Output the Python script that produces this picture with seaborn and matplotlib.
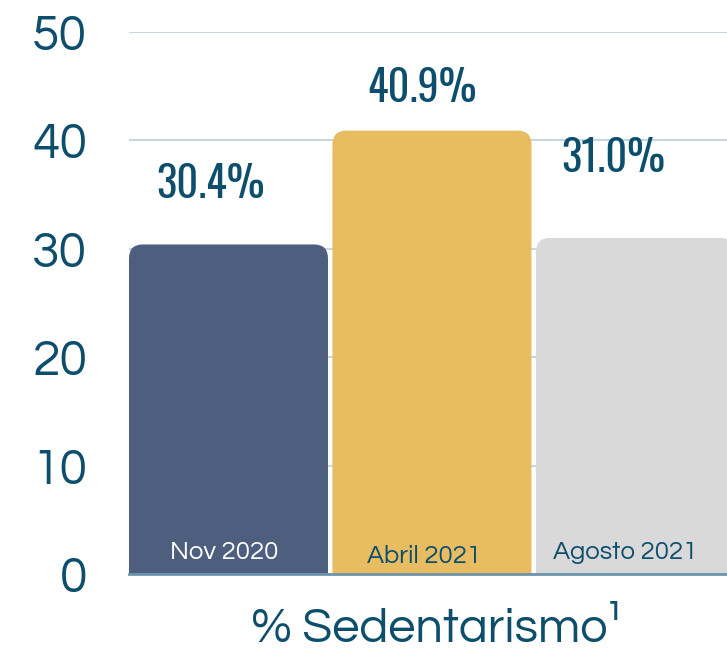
import pandas as pd
import seaborn as sns
import matplotlib.pyplot as plt
from matplotlib.patches import FancyBboxPatch

# datos
periodos = ["Nov 2020", "Abril 2021", "Agosto 2021"]
sedentarismo = [30.4, 40.9, 31.0]
etiquetas = ["30.4%", "40.9%", "31.0%"]
yticks = [0, 10, 20, 30, 40, 50]

colores = ["#4e5e7f", "#e8bd62", "#d9d9d9"]
color_texto = "#0e4e6d"
color_cat = ["white", color_texto, color_texto]

# posiciones de las etiquetas (desplazamientos respecto a cada barra)
dx_valor = [-0.09, -0.05, -0.11]
dy_valor = [5.5, 3.9, 7.3]
dx_cat = [-0.02, -0.04, -0.05]
y_cat = [1.95, 1.65, 1.95]

df = pd.DataFrame({"periodo": periodos, "valor": sedentarismo})

sns.set_style("white")
plt.rcParams["font.family"] = ["Questrial", "Lato", "DejaVu Sans"]

fig = plt.figure(figsize=(7.27, 6.59), dpi=100)
ax = fig.add_axes([129 / 727, 85 / 659, 598 / 727, 542 / 659])

sns.barplot(data=df, x="periodo", y="valor", hue="periodo", palette=colores,
            saturation=1, width=0.978, legend=False, ax=ax, zorder=2)

# barras con esquinas redondeadas
for p in list(ax.patches):
    x, w, h, fc = p.get_x(), p.get_width(), p.get_height(), p.get_facecolor()
    p.remove()
    ax.add_patch(FancyBboxPatch((x, -3), w, h + 3,
                                boxstyle="round,pad=0,rounding_size=0.068",
                                mutation_aspect=19, fc=fc, ec="none", zorder=2))

ax.set_xlim(-0.489, 2.45)
ax.set_ylim(0, 50)
ax.set_yticks(yticks)
ax.set_xticks([])
ax.set_xlabel("")
ax.set_ylabel("")
ax.grid(axis="y", color="#c7d6e0", linewidth=1.5, zorder=0)
ax.set_axisbelow(True)
for s in ["top", "right", "left"]:
    ax.spines[s].set_visible(False)
ax.spines["bottom"].set_color("#6d94ae")
ax.spines["bottom"].set_linewidth(2)
ax.spines["bottom"].set_zorder(3)
ax.tick_params(axis="y", length=0, labelsize=36, labelcolor=color_texto, pad=30)

for i, v in enumerate(sedentarismo):
    ax.text(i + dx_valor[i], v + dy_valor[i], etiquetas[i], ha="center", va="center",
            fontsize=30.5, color=color_texto, family=["Oswald", "DejaVu Sans"])
    ax.text(i + dx_cat[i], y_cat[i], periodos[i], ha="center", va="center",
            fontsize=18.5, color=color_cat[i], zorder=4)

fig.text(437 / 727, 1 - 630 / 659, "% Sedentarismo¹", ha="center", va="center",
         fontsize=35, color=color_texto)

plt.savefig("out.png", dpi=100)
